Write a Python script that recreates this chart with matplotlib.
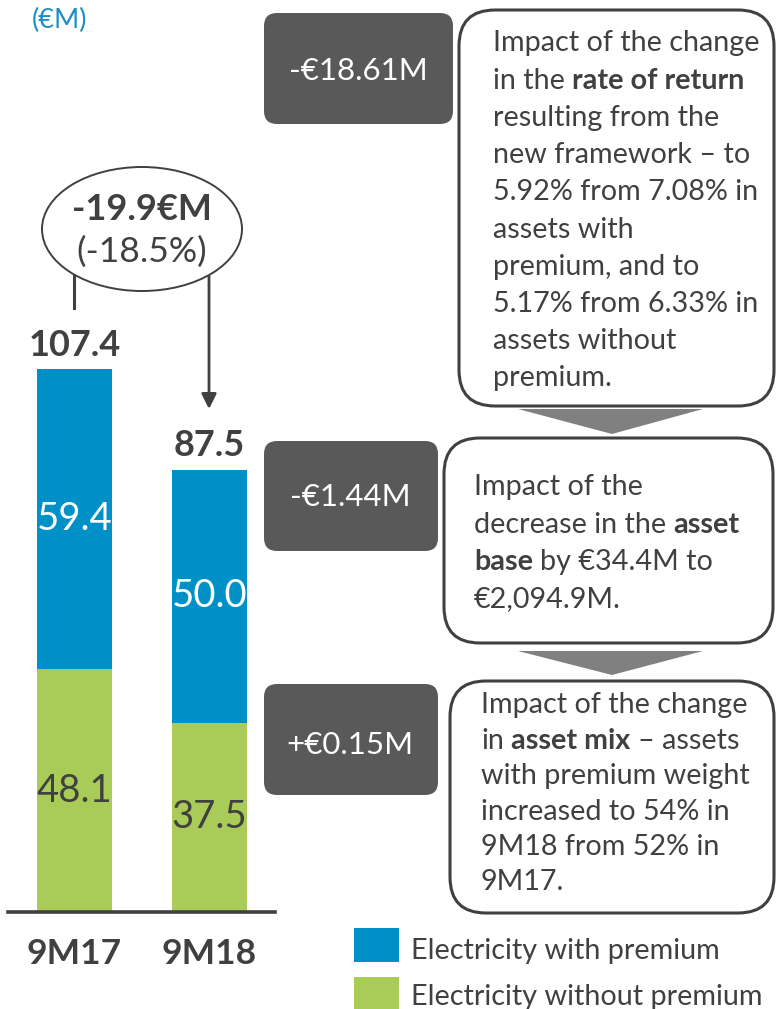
import matplotlib
matplotlib.use("Agg")
import matplotlib.pyplot as plt
from matplotlib.patches import FancyBboxPatch, Ellipse, Polygon, Rectangle

FONT = "Lato"
plt.rcParams["font.family"] = [FONT, "DejaVu Sans"]

# ---------------- data ----------------
periods = ["9M17", "9M18"]
with_premium = [59.4, 50.0]
without_premium = [48.1, 37.5]
totals = [107.4, 87.5]
series_names = ["Electricity with premium", "Electricity without premium"]
change_label = "-19.9€M"
change_pct = "(-18.5%)"
unit_label = "(€M)"
impact_values = ["-€18.61M", "-€1.44M", "+€0.15M"]
impact_texts = [
    [[("Impact of the change", False)],
     [("in the", False), ("rate of return", True)],
     [("resulting from the", False)],
     [("new framework – to", False)],
     [("5.92% from 7.08% in", False)],
     [("assets with", False)],
     [("premium, and to", False)],
     [("5.17% from 6.33% in", False)],
     [("assets without", False)],
     [("premium.", False)]],
    [[("Impact of the", False)],
     [("decrease in the", False), ("asset", True)],
     [("base", True), ("by €34.4M to", False)],
     [("€2,094.9M.", False)]],
    [[("Impact of the change", False)],
     [("in", False), ("asset mix", True), ("– assets", False)],
     [("with premium weight", False)],
     [("increased to 54% in", False)],
     [("9M18 from 52% in", False)],
     [("9M17.", False)]],
]

BLUE = "#0090C8"
GREEN = "#A9CC58"
DARK = "#404040"
BOXGRAY = "#595959"
TRI = "#808080"

W, H = 776, 1009
fig = plt.figure(figsize=(W / 100, H / 100), dpi=100)

# ---------------- bar axes ----------------
base_px = 912
px_per_unit = 5.05
ax = fig.add_axes([8 / W, (H - base_px) / H, (275 - 8) / W, base_px / H])
ax.set_facecolor("none")
x0 = -(74.5 - 8) / 135
x1 = 1 + (275 - 209.5) / 135
ax.set_xlim(x0, x1)
ax.set_ylim(0, base_px / px_per_unit)
xs = list(range(len(periods)))
bw = 75 / 135
ax.bar(xs, without_premium, width=bw, color=GREEN, zorder=2)
ax.bar(xs, with_premium, width=bw, bottom=without_premium, color=BLUE, zorder=2)
for s in ["top", "right", "left"]:
    ax.spines[s].set_visible(False)
ax.spines["bottom"].set_color(DARK)
ax.spines["bottom"].set_linewidth(2.6)
ax.set_yticks([])
ax.set_xticks(xs)
ax.set_xticklabels(periods, fontsize=25.5, fontweight="bold", color=DARK)
ax.tick_params(axis="x", length=0, pad=19)

for i in xs:
    ax.text(i, without_premium[i] / 2, f"{without_premium[i]:.1f}", ha="center",
            va="center", fontsize=27.5, color=DARK, zorder=3)
    ax.text(i, without_premium[i] + with_premium[i] / 2, f"{with_premium[i]:.1f}",
            ha="center", va="center", fontsize=27.5, color="white", zorder=3)
    ax.text(i, totals[i] + 1.6, f"{totals[i]:.1f}", ha="center", va="bottom",
            fontsize=26, fontweight="bold", color=DARK, zorder=3)

# ---------------- overlay axes (pixel coords) ----------------
ov = fig.add_axes([0, 0, 1, 1])
ov.set_xlim(0, W)
ov.set_ylim(H, 0)
ov.axis("off")
ov.set_zorder(5)

renderer = fig.canvas.get_renderer()

ov.text(32, 20, unit_label, fontsize=19.5, color="#1B8FC6", va="center", ha="left")

# ellipse and arrows
ov.add_patch(Ellipse((142, 229), 200, 124, fc="white", ec=DARK, lw=1.4, zorder=3))
ov.text(142, 210, change_label, fontsize=26, fontweight="bold", color=DARK,
        ha="center", va="center", zorder=4)
ov.text(142, 252, change_pct, fontsize=25.5, color=DARK, ha="center", va="center", zorder=4)
ov.plot([74, 74], [276, 308], color=DARK, lw=2.2, zorder=2)
ov.annotate("", xy=(209, 409), xytext=(209, 276),
            arrowprops=dict(arrowstyle="-|>,head_length=0.9,head_width=0.45",
                            color=DARK, lw=2.0, shrinkA=0, shrinkB=0), zorder=2)

# dark value boxes
dark_boxes = [(264, 13, 189, 111), (264, 441, 174, 110), (264, 684, 174, 111)]
val_pos = [(358, 71), (350, 497), (350, 745)]
for (bx, by, bwid, bh), (tx, ty), val in zip(dark_boxes, val_pos, impact_values):
    ov.add_patch(FancyBboxPatch((bx, by), bwid, bh,
                                boxstyle="round,pad=0,rounding_size=13",
                                fc=BOXGRAY, ec="none", zorder=2))
    ov.text(tx, ty, val, fontsize=22.5, color="white", ha="center", va="center", zorder=3)

# white explanation boxes
text_boxes = [(459, 10, 315, 396), (444, 438, 329, 205), (450, 681, 324, 232)]
for (bx, by, bwid, bh) in text_boxes:
    ov.add_patch(FancyBboxPatch((bx, by), bwid, bh,
                                boxstyle="round,pad=0,rounding_size=36",
                                fc="white", ec=DARK, lw=2.2, zorder=2))

# triangles between boxes
for ty0, ty1 in [(409, 434), (651, 675)]:
    ov.add_patch(Polygon([(518, ty0), (703, ty0), (612, ty1)], closed=True,
                         fc=TRI, ec="none", zorder=2))

# rich text lines
TS = 20.7


def measure(txt, bold):
    t = ov.text(0, 0, txt, fontsize=TS, fontweight="bold" if bold else "normal")
    w = t.get_window_extent(renderer).width
    t.remove()
    return w


space_w = measure("x x", False) - measure("xx", False)

text_starts = [(493, 41, 37.2), (474, 485, 37.2), (481, 703, 35.4)]
for (lx, ly, step), lines in zip(text_starts, impact_texts):
    for k, parts in enumerate(lines):
        x = lx
        y = ly + k * step
        for j, (txt, bold) in enumerate(parts):
            if j > 0:
                x += space_w
            t = ov.text(x, y, txt, fontsize=TS, fontweight="bold" if bold else "normal",
                        color=DARK, ha="left", va="center_baseline", zorder=4)
            x += t.get_window_extent(renderer).width

# legend
leg = [(BLUE, 928, 34, 948), (GREEN, 977, 32, 995)]
for (col, sy, sh, ty), name in zip(leg, series_names):
    ov.add_patch(Rectangle((354, sy), 45, sh, fc=col, ec="none", zorder=2))
    ov.text(411, ty, name, fontsize=TS, color=DARK, ha="left", va="center_baseline", zorder=3)

fig.savefig("out.png", dpi=100)
